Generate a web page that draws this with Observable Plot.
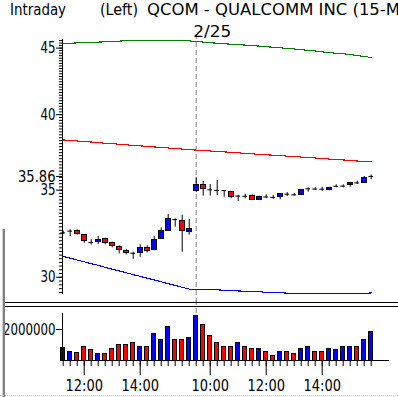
<!DOCTYPE html>
<html><head><meta charset="utf-8">
<script src="https://cdn.jsdelivr.net/npm/d3@7"></script>
<script src="https://cdn.jsdelivr.net/npm/@observablehq/plot@0.6"></script>
<style>
html,body{margin:0;padding:0;background:#fff;overflow:hidden;width:398px;height:397px}
#wrap{position:relative;width:398px;height:397px;overflow:hidden;font-family:"DejaVu Sans Condensed","DejaVu Sans",sans-serif}
.t{position:absolute;top:2px;font-size:16px;white-space:nowrap;color:#000;line-height:1;display:inline-block;transform-origin:0 0}
#probe{visibility:hidden}
#price,#vol{position:absolute;left:0}
#price{top:0}
#vol{top:300px}
#sep{position:absolute;left:4px;top:302px;width:394px;height:3px;border-top:1px solid #000;border-bottom:1px solid #000}
#lbar{position:absolute;left:2px;top:229px;width:1px;height:168px;background:#d0d0d0;border-right:2px solid #808080}
#bot{position:absolute;left:0;top:395px;width:398px;height:0;border-top:1px dotted #c0c0c0}
</style></head><body><div id="wrap">
<span class="t" id="t1" style="left:10px">Intraday</span>
<span class="t" id="t2" style="left:100px">(Left)</span>
<span class="t" id="t3" style="left:147px">QCOM - QUALCOMM INC (15-Minute)</span>
<span class="t" id="probe" style="left:0">QCOM - QUALCOMM INC (15-M</span>
<div id="price"></div>
<div id="vol"></div>
<div id="sep"></div>
<div id="lbar"></div>
<div id="bot"></div>
</div>
<script>
const times = ["11:15","11:30","11:45","12:00","12:15","12:30","12:45","13:00","13:15","13:30","13:45","14:00","14:15","14:30","14:45","15:00","15:15","15:30","15:45",
  "9:30","9:45","10:00","10:15","10:30","10:45","11:00","11:15","11:30","11:45","12:00","12:15","12:30","12:45","13:00","13:15","13:30","13:45","14:00","14:15","14:30","14:45","15:00","15:15","15:30","15:45"];
const opens  = [32.45,32.55,32.57,32.32,31.90,31.92,32.11,31.85,31.66,31.44,31.30,31.32,31.60,31.47,32.11,32.57,33.22,33.15,32.49,
  34.93,35.35,35.02,34.98,34.97,34.90,34.63,34.62,34.63,34.41,34.58,34.55,34.56,34.75,34.71,34.71,35.08,35.07,35.06,35.02,35.24,35.25,35.33,35.45,35.46,35.86];
const highs  = [32.55,32.63,32.63,32.32,32.06,32.24,32.14,31.92,31.72,31.50,31.36,31.77,31.72,32.24,32.74,33.52,33.27,33.48,33.23,
  35.77,35.54,35.35,35.60,34.97,34.92,34.68,34.75,34.71,34.63,34.71,34.67,34.77,34.85,34.79,35.02,35.14,35.14,35.18,35.18,35.33,35.33,35.46,35.56,35.86,35.95];
const lows   = [32.35,32.24,32.32,31.86,31.76,31.79,31.77,31.60,31.27,31.21,30.97,31.08,31.32,31.45,32.09,32.55,32.78,31.36,32.32,
  34.85,34.63,34.63,34.67,34.56,34.47,34.30,34.47,34.39,34.36,34.47,34.43,34.41,34.61,34.63,34.67,34.88,34.98,34.92,34.96,35.14,35.14,35.18,35.35,35.43,35.66];
const closes = [32.45,32.55,32.37,32.00,31.90,32.07,31.86,31.72,31.49,31.32,31.30,31.62,31.45,32.06,32.53,33.23,33.22,32.57,32.68,
  35.35,35.08,35.02,34.98,34.97,34.59,34.63,34.62,34.41,34.59,34.58,34.55,34.77,34.75,34.71,35.02,35.08,35.07,35.06,35.14,35.24,35.25,35.46,35.45,35.73,35.86];
const volumes = [790000,580000,500000,840000,650000,430000,390000,710000,970000,970000,1160000,900000,840000,1680000,1350000,2130000,1350000,1310000,1420000,
  2900000,2320000,1550000,1100000,900000,900000,1160000,840000,710000,770000,580000,260000,580000,580000,450000,710000,840000,580000,520000,770000,650000,840000,900000,840000,1290000,1810000];
const upperLine = [45.35,45.38,45.42,45.44,45.46,45.48,45.50,45.53,45.56,45.59,45.59,45.59,45.60,45.60,45.60,45.60,45.59,45.59,45.58,
  45.53,45.48,45.43,45.39,45.35,45.31,45.28,45.24,45.20,45.16,45.11,45.07,45.02,44.98,44.93,44.87,44.82,44.77,44.70,44.64,44.59,44.55,44.49,44.41,44.34,44.26];
const middleLine = [38.25,38.21,38.18,38.14,38.11,38.07,38.03,38.00,37.96,37.92,37.89,37.85,37.82,37.78,37.74,37.71,37.67,37.64,37.60,
  37.57,37.54,37.51,37.48,37.45,37.42,37.39,37.35,37.32,37.29,37.26,37.23,37.20,37.17,37.14,37.11,37.08,37.05,37.01,36.98,36.95,36.92,36.89,36.85,36.82,36.79];
const lowerLine = [31.13,31.03,30.93,30.83,30.73,30.64,30.53,30.43,30.34,30.24,30.14,30.05,29.95,29.86,29.76,29.66,29.57,29.47,29.38,
  29.38,29.37,29.35,29.34,29.32,29.30,29.28,29.27,29.25,29.24,29.21,29.20,29.19,29.17,29.15,29.15,29.15,29.15,29.15,29.15,29.15,29.15,29.15,29.15,29.15,29.18];
const priceTickLabels = [30, 35, 40, 45];
const volumeTickLabels = [2000000];
const dayLabels = [{time: "9:30", label: "2/25"}];
const hourLabels = ["10:00", "12:00", "14:00"];

const FONT = '"DejaVu Sans Condensed","DejaVu Sans",sans-serif';
const RED = "#ff0000", BLUE = "#0000ff";
const bars = times.map((t, i) => ({
  i, t, open: opens[i], high: highs[i], low: lows[i], close: closes[i], vol: volumes[i],
  up: closes[i] > opens[i], volUp: i === 0 || closes[i] > closes[i - 1],
  g: upperLine[i], r: middleLine[i], b: lowerLine[i]
}));
const dayIdx = dayLabels.map(d => ({i: times.indexOf(d.time), label: d.label}));
const bodies = bars.filter(d => Math.abs(d.close - d.open) > 0.005);
const dojis = bars.filter(d => Math.abs(d.close - d.open) <= 0.005);
const lastClose = closes[closes.length - 1];
const xScale = {type: "linear", domain: [0, times.length - 1], range: [62.7, 370.7], axis: null};
const half = 0.34;

const price = Plot.plot({
  width: 398, height: 300, marginTop: 39, marginBottom: 7, marginLeft: 62, marginRight: 10,
  style: {background: "transparent", fontFamily: FONT, fontSize: "16px", overflow: "visible"},
  x: xScale,
  y: {type: "log", domain: [29.15, 45.69], range: [293, 39], axis: null},
  marks: [
    Plot.ruleX(dayIdx, {x: "i", stroke: "#808080", strokeDasharray: "5,3", insetTop: -5, insetBottom: -10}),
    Plot.text(dayIdx, {x: "i", text: "label", frameAnchor: "top", textAnchor: "start", dx: -3, dy: -14, fontSize: 16}),
    Plot.line(bars, {x: "i", y: "g", stroke: "#008000", strokeWidth: 1.1, shapeRendering: "crispEdges"}),
    Plot.line(bars, {x: "i", y: "r", stroke: RED, strokeWidth: 1.1, shapeRendering: "crispEdges"}),
    Plot.line(bars, {x: "i", y: "b", stroke: BLUE, strokeWidth: 1.1, shapeRendering: "crispEdges"}),
    Plot.ruleX(bars, {x: "i", y1: "low", y2: "high", stroke: "#000"}),
    Plot.rect(bodies, {x1: d => d.i - half, x2: d => d.i + half, y1: "open", y2: "close", fill: d => d.up ? BLUE : RED, stroke: "#000", shapeRendering: "crispEdges"}),
    Plot.ruleY(dojis, {y: "close", x1: d => d.i - half, x2: d => d.i + half, stroke: "#000"}),
    Plot.axisY({ticks: d3.range(29.2, 45.7, 0.2), tickSize: 3, tickFormat: () => "", label: null}),
    Plot.axisY({ticks: [...priceTickLabels, lastClose], tickSize: 6, tickPadding: 1, tickFormat: d => String(d), label: null, fontSize: 16}),
    Plot.frame({anchor: "left"})
  ]
});
document.getElementById("price").appendChild(price);

const vol = Plot.plot({
  width: 398, height: 97, marginTop: 13, marginBottom: 37, marginLeft: 62, marginRight: 10,
  style: {background: "transparent", fontFamily: FONT, fontSize: "16px", overflow: "visible"},
  x: xScale,
  y: {domain: [0, 3030000], range: [60, 13], axis: null},
  marks: [
    Plot.ruleX(dayIdx, {x: "i", stroke: "#808080", strokeDasharray: "5,3", insetTop: -13}),
    Plot.rect(bars, {x1: d => d.i - 0.3, x2: d => d.i + 0.3, y1: 0, y2: "vol", fill: d => d.volUp ? BLUE : RED, stroke: "#000", shapeRendering: "crispEdges"}),
    Plot.axisY({ticks: volumeTickLabels, tickSize: 6, tickPadding: 1, tickFormat: d => String(d), label: null, fontSize: 16}),
    Plot.axisX({ticks: d3.range(times.length), tickSize: 6, tickFormat: () => "", label: null}),
    Plot.axisX({ticks: bars.filter(d => hourLabels.includes(d.t)).map(d => d.i), tickSize: 15, tickPadding: 4, tickFormat: i => times[i], label: null, fontSize: 16}),
    Plot.frame({anchor: "left"}),
    Plot.frame({anchor: "bottom"})
  ]
});
document.getElementById("vol").appendChild(vol);

// narrow the label glyphs to the reference's compact bitmap-like font widths
const special = {"2/25": 38};
for (const svg of [price, vol]) {
  svg.querySelectorAll("text").forEach(t => {
    const s = t.textContent;
    if (!s || !s.trim()) return;
    const target = special[s] || s.length * 7.5;
    t.setAttribute("textLength", target);
    t.setAttribute("lengthAdjust", "spacingAndGlyphs");
  });
}
function fit(el, target) {
  const w = el.getBoundingClientRect().width;
  el.style.transform = `scaleX(${target / w})`;
}
const probeW = document.getElementById("probe").getBoundingClientRect().width;
fit(document.getElementById("t1"), 56);
fit(document.getElementById("t2"), 38);
document.getElementById("t3").style.transform = `scaleX(${253 / probeW})`;
document.getElementById("probe").remove();
</script>
</body></html>
